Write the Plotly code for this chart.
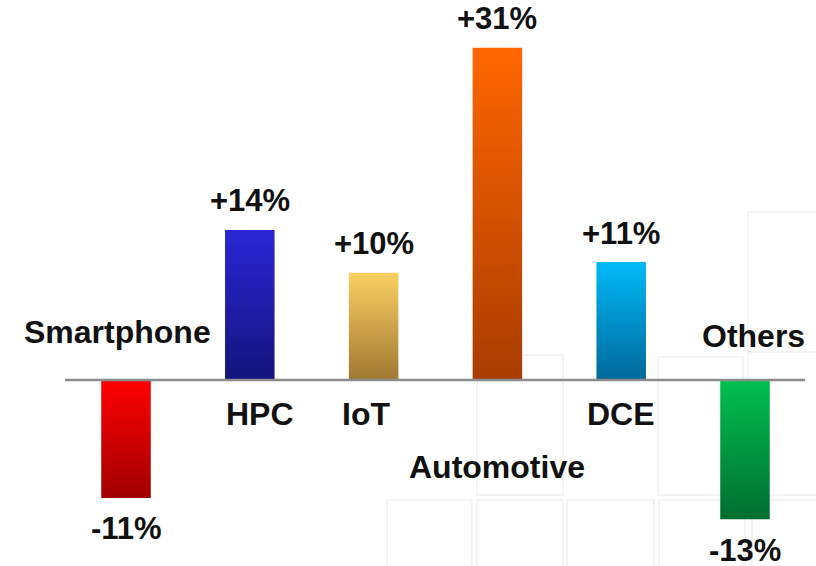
import plotly.graph_objects as go

# ---- data ----
categories = ["Smartphone", "HPC", "IoT", "Automotive", "DCE", "Others"]
growth = [-11, 14, 10, 31, 11, -13]
value_labels = ["-11%", "+14%", "+10%", "+31%", "+11%", "-13%"]
top_colors = ["#FF0000", "#2A26D6", "#FAD062", "#FF6600", "#00BAF8", "#00C050"]
bottom_colors = ["#A00000", "#14147C", "#A07832", "#A83C00", "#00689A", "#006E30"]

# ---- style ----
FONT = "Arial, Liberation Sans, sans-serif"
FS_VAL = 31
FS_CAT = 32
W, H = 816, 566
bar_half = 0.2
# category label offsets (px) relative to (bar center, zero line)
cat_offsets = [(-9, 48), (10, -34), (-8, -34), (0, -87), (0, -34), (8, 44)]

fig = go.Figure()

for i, (cat, v) in enumerate(zip(categories, growth)):
    lo, hi = min(0, v), max(0, v)
    fig.add_trace(go.Scatter(
        x=[i - bar_half, i + bar_half, i + bar_half, i - bar_half, i - bar_half],
        y=[lo, lo, hi, hi, lo],
        mode="lines",
        line=dict(width=0),
        fill="toself",
        fillgradient=dict(type="vertical", start=lo, stop=hi,
                          colorscale=[[0, bottom_colors[i]], [1, top_colors[i]]]),
        name=cat,
        hoverinfo="skip",
        showlegend=False,
    ))
    # value label
    fig.add_annotation(
        x=i, y=v, xref="x", yref="y",
        text="<b>%s</b>" % value_labels[i], showarrow=False,
        yshift=29 if v > 0 else -31,
        font=dict(family=FONT, size=FS_VAL, color="#111111"),
    )
    # category label
    dx, dy = cat_offsets[i]
    fig.add_annotation(
        x=i, y=0, xref="x", yref="y",
        text="<b>%s</b>" % cat, showarrow=False,
        xshift=dx, yshift=dy,
        font=dict(family=FONT, size=FS_CAT, color="#111111"),
    )

# faint decorative background squares (pixel boxes)
squares = [(387, 500, 472, 570), (477, 500, 563, 570), (567, 500, 654, 570),
           (659, 500, 745, 570), (752, 500, 822, 570),
           (477, 355, 563, 495), (658, 357, 743, 495), (748, 352, 822, 495),
           (748, 212, 822, 352)]
for x0, y0, x1, y1 in squares:
    fig.add_shape(type="rect", xref="paper", yref="paper",
                  x0=x0 / W, x1=x1 / W, y0=1 - y1 / H, y1=1 - y0 / H,
                  line=dict(color="#F4F4F4", width=2), fillcolor="rgba(0,0,0,0)",
                  layer="below")

# zero line
fig.add_shape(type="line", xref="x", yref="y", x0=-0.493, x1=5.485, y0=0, y1=0,
              line=dict(color="#8C8C8C", width=2.5), layer="above")

px_per_cat = 123.8
x_left = -126 / px_per_cat
x_right = 5 + (W - 745) / px_per_cat
px_per_unit = 10.72
y_top = 380 / px_per_unit
y_bot = -(H - 380) / px_per_unit

fig.update_layout(
    width=W, height=H,
    margin=dict(l=0, r=0, t=0, b=0),
    paper_bgcolor="white", plot_bgcolor="rgba(0,0,0,0)",
    xaxis=dict(range=[x_left, x_right], visible=False, fixedrange=True),
    yaxis=dict(range=[y_bot, y_top], visible=False, fixedrange=True),
    showlegend=False,
)

fig.write_html("out.html", config={"displayModeBar": False},
               post_script="document.body.style.margin='0';document.body.style.overflow='hidden';")
